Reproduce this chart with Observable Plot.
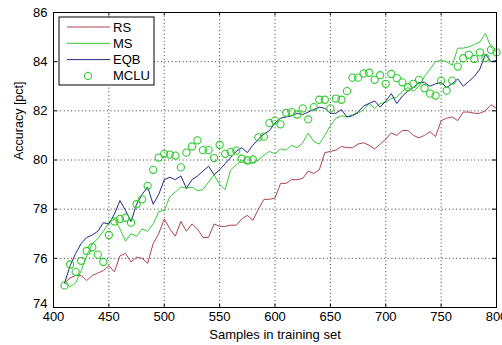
<!DOCTYPE html>
<html><head><meta charset="utf-8">
<script src="https://cdn.jsdelivr.net/npm/d3@7"></script>
<script src="https://cdn.jsdelivr.net/npm/@observablehq/plot@0.6"></script>
<style>body{margin:0;background:#fff}#chart{width:502px;height:345px}</style>
</head><body><div id="chart"></div>
<script>
const samples = [410,415,420,425,430,435,440,445,450,455,460,465,470,475,480,485,490,495,500,505,510,515,520,525,530,535,540,545,550,555,560,565,570,575,580,585,590,595,600,605,610,615,620,625,630,635,640,645,650,655,660,665,670,675,680,685,690,695,700,705,710,715,720,725,730,735,740,745,750,755,760,765,770,775,780,785,790,795,800];
const RS = [75.0,75.2,75.3,75.3,75.1,75.3,75.4,75.5,75.7,75.45,76.1,76.2,75.85,76.05,76.0,75.8,76.6,77.0,77.6,77.2,76.9,77.5,77.1,77.4,77.2,76.85,76.85,77.4,77.3,77.3,77.35,77.35,77.6,77.75,77.55,78.0,78.4,78.4,78.45,79.05,79.05,79.2,79.2,79.25,79.55,79.45,79.6,80.3,80.35,80.4,80.55,80.5,80.5,80.65,80.7,80.6,80.45,80.65,80.85,81.1,81.0,81.2,81.2,81.0,80.9,81.0,81.15,80.95,81.6,81.7,81.75,81.6,81.95,81.95,81.9,81.9,82.0,82.25,82.1];
const MS = [75.0,74.85,75.0,75.5,76.1,76.6,76.8,77.1,77.45,77.6,77.2,76.7,77.0,76.9,77.2,77.1,77.4,77.9,77.95,78.5,78.7,78.9,78.85,78.9,78.75,78.8,79.1,79.4,79.0,78.8,79.6,79.8,80.0,79.85,79.9,80.0,80.2,80.35,80.25,80.45,80.4,80.6,80.5,80.7,81.1,80.75,80.65,81.0,81.4,81.7,81.8,81.75,81.85,81.9,82.05,82.3,82.1,82.3,82.35,82.5,82.55,82.8,82.95,82.8,83.0,83.4,83.7,84.0,84.05,84.0,83.85,84.55,84.55,84.6,84.7,84.8,85.15,84.6,84.4];
const EQB = [75.0,75.7,76.2,76.6,76.85,76.95,77.1,77.45,77.4,77.8,78.35,77.95,77.5,78.2,78.6,78.9,78.2,78.6,79.2,79.3,79.2,79.35,78.85,79.2,79.35,79.55,79.75,79.4,79.6,79.85,80.1,80.35,80.5,80.3,80.6,80.85,81.05,81.2,81.5,81.7,81.75,81.8,81.9,81.85,81.95,82.05,82.15,82.1,81.9,81.9,82.05,81.75,81.8,81.95,82.2,82.3,82.4,82.15,82.4,82.7,82.3,82.6,82.8,82.95,83.15,83.15,83.0,83.1,83.15,82.95,83.1,83.3,83.0,83.2,83.4,83.7,84.3,84.0,84.05];
const MCLU = [74.9,75.75,75.45,75.9,76.3,76.45,76.15,75.85,76.95,77.5,77.6,77.65,77.45,78.2,78.4,78.95,79.6,80.1,80.25,80.22,80.18,79.7,80.3,80.55,80.8,80.4,80.4,80.08,80.62,80.25,80.32,80.38,80.05,79.98,80.02,80.92,80.95,81.5,81.6,81.45,81.92,81.95,81.85,82.1,81.65,82.15,82.45,82.45,82.1,82.5,82.45,82.8,83.35,83.35,83.52,83.55,83.26,83.45,83.1,83.5,83.33,83.16,82.96,83.1,83.26,82.92,82.7,82.62,83.23,82.82,83.23,83.8,84.14,84.28,84.11,84.38,84.15,84.48,84.38];
const xTicks = [400,450,500,550,600,650,700,750,800];
const yTicks = [74,76,78,80,82,84,86];
const seriesNames = ["RS","MS","EQB","MCLU"];
const colors = {RS:"#ad4450", MS:"#33cc33", EQB:"#1f2a80", MCLU:"#2fcc2f"};

const rows = samples.map((s,i)=>({s, RS:RS[i], MS:MS[i], EQB:EQB[i], MCLU:MCLU[i]}));
const font = "'Liberation Sans', Arial, sans-serif";
const grid = {stroke:"#222", strokeDasharray:"1,2.6", strokeWidth:0.9};

const plot = Plot.plot({
  width: 502, height: 345,
  marginLeft: 53, marginRight: 6, marginTop: 12, marginBottom: 38,
  style: {fontFamily: font, fontSize: "12.5px", background: "#fff", color: "#000", overflow: "hidden"},
  x: {domain: [400, 800], label: null},
  y: {domain: [74, 86], label: null},
  marks: [
    Plot.ruleX(xTicks.slice(1,-1), grid),
    Plot.ruleY(yTicks.slice(1,-1), grid),
    Plot.line(rows, {x:"s", y:"RS", stroke:colors.RS, strokeWidth:1}),
    Plot.line(rows, {x:"s", y:"MS", stroke:colors.MS, strokeWidth:1}),
    Plot.line(rows, {x:"s", y:"EQB", stroke:colors.EQB, strokeWidth:1}),
    Plot.dot(rows, {x:"s", y:"MCLU", r:3.6, stroke:colors.MCLU, fill:"none", strokeWidth:1.1}),
    Plot.ruleX(xTicks, {y1:74, y2:74.13, stroke:"#000"}),
    Plot.ruleX(xTicks, {y1:86, y2:85.87, stroke:"#000"}),
    Plot.ruleY(yTicks, {x1:400, x2:403.5, stroke:"#000"}),
    Plot.ruleY(yTicks, {x1:800, x2:796.5, stroke:"#000"}),
    Plot.frame({stroke:"#000", strokeWidth:1}),
    Plot.axisX({ticks: xTicks, tickSize: 0, tickPadding: 4, tickFormat: d => String(d), fontSize: 13}),
    Plot.axisY({ticks: yTicks.slice(1), tickSize: 0, tickPadding: 6, tickFormat: d => String(d), fontSize: 13}),
    Plot.axisY({ticks: [yTicks[0]], tickSize: 0, tickPadding: 6, dy: -4, tickFormat: d => String(d), fontSize: 13}),
    Plot.text(["Samples in training set"], {frameAnchor:"bottom", dy: 31, text: d => d, fontSize: 13}),
    Plot.text(["Accuracy [pct]"], {frameAnchor:"left", dx: -35, rotate: -90, text: d => d, fontSize: 12.5})
  ]
});

// legend inside the axes, MATLAB style
const svg = d3.select(plot);
const lg = svg.append("g").attr("transform","translate(59,17)")
  .style("font-family", font).style("font-size","13px").attr("text-anchor","start");
lg.append("rect").attr("width",95).attr("height",68).attr("fill","#fff").attr("stroke","#000").attr("stroke-width",1);
seriesNames.forEach((n,i)=>{
  const yy = 10 + i*16.3;
  if (n === "MCLU") {
    lg.append("circle").attr("cx",29).attr("cy",yy).attr("r",3.6).attr("fill","none").attr("stroke",colors[n]).attr("stroke-width",1.1);
  } else {
    lg.append("line").attr("x1",8).attr("x2",51).attr("y1",yy).attr("y2",yy).attr("stroke",colors[n]).attr("stroke-width",1);
  }
  lg.append("text").attr("x",54).attr("y",yy).attr("dy","0.35em").attr("text-anchor","start").text(n);
});

document.getElementById("chart").appendChild(plot);
</script></body></html>
